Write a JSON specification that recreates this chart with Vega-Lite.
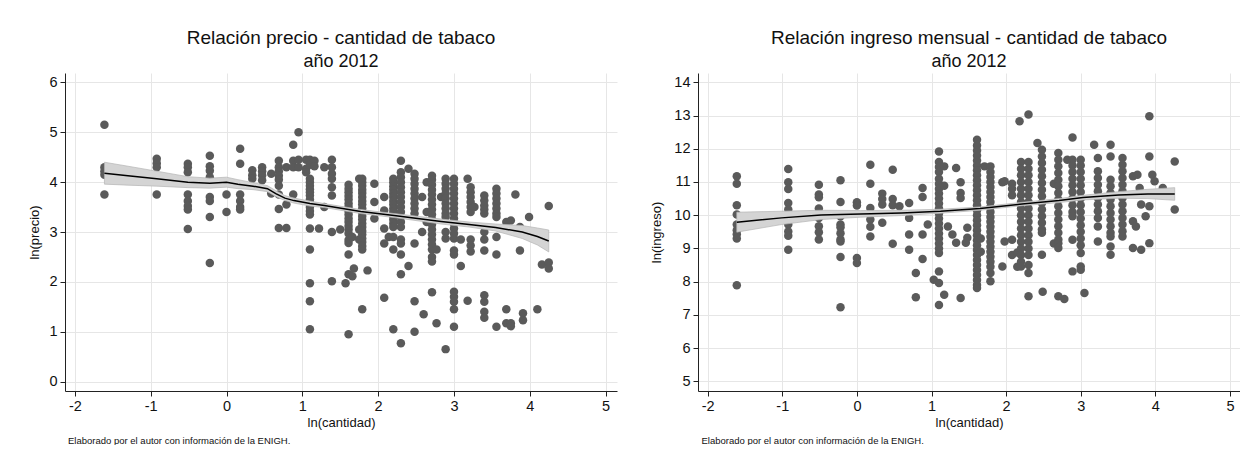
{
  "$schema": "https://vega.github.io/schema/vega-lite/v6.json",
  "background": "white",
  "padding": {"left": 28, "top": 29, "right": 0, "bottom": 0},
  "spacing": 33,
  "config": {
    "font": "Liberation Sans",
    "view": {"stroke": null},
    "axis": {
      "grid": true, "gridColor": "#e6e6e6", "gridWidth": 1,
      "domainColor": "#222222", "tickColor": "#222222", "tickSize": 5,
      "labelFontSize": 14.5, "labelColor": "#111111", "labelPadding": 3, "labelOverlap": false,
      "labelExpr": "'' + datum.value",
      "titleFontSize": 13, "titleFontWeight": "normal", "titleColor": "#111111"
    },
    "title": {"color": "#111111", "subtitleColor": "#111111", "fontWeight": "normal"}
  },
  "datasets": {
    "precio": [
      {"q": -1.61, "p": 5.15}, {"q": -1.61, "p": 4.3}, {"q": -1.61, "p": 4.22}, {"q": -1.61, "p": 4.15}, {"q": -1.61, "p": 3.75},
      {"q": -0.92, "p": 4.47}, {"q": -0.92, "p": 4.38}, {"q": -0.92, "p": 4.3}, {"q": -0.92, "p": 3.75},
      {"q": -0.51, "p": 4.37}, {"q": -0.51, "p": 4.3}, {"q": -0.51, "p": 4.2}, {"q": -0.51, "p": 3.75}, {"q": -0.51, "p": 3.62}, {"q": -0.51, "p": 3.52}, {"q": -0.51, "p": 3.45}, {"q": -0.51, "p": 3.06},
      {"q": -0.22, "p": 4.53}, {"q": -0.22, "p": 4.32}, {"q": -0.22, "p": 4.23}, {"q": -0.22, "p": 4.1}, {"q": -0.22, "p": 3.7}, {"q": -0.22, "p": 3.62}, {"q": -0.22, "p": 3.3}, {"q": -0.22, "p": 2.38},
      {"q": 0, "p": 3.75}, {"q": 0, "p": 3.4},
      {"q": 0.18, "p": 4.67}, {"q": 0.18, "p": 4.37}, {"q": 0.18, "p": 3.75}, {"q": 0.18, "p": 3.62}, {"q": 0.18, "p": 3.5}, {"q": 0.18, "p": 3.45},
      {"q": 0.34, "p": 4.24}, {"q": 0.34, "p": 4.14}, {"q": 0.34, "p": 4.07},
      {"q": 0.47, "p": 4.3}, {"q": 0.47, "p": 4.22}, {"q": 0.47, "p": 4.14}, {"q": 0.47, "p": 4.04},
      {"q": 0.59, "p": 4.17}, {"q": 0.59, "p": 3.77},
      {"q": 0.69, "p": 4.43}, {"q": 0.69, "p": 4.3}, {"q": 0.69, "p": 4.22}, {"q": 0.69, "p": 4.13}, {"q": 0.69, "p": 4.05}, {"q": 0.69, "p": 3.93}, {"q": 0.69, "p": 3.75}, {"q": 0.69, "p": 3.46}, {"q": 0.69, "p": 3.08},
      {"q": 0.79, "p": 4.3}, {"q": 0.79, "p": 3.55}, {"q": 0.79, "p": 3.08},
      {"q": 0.88, "p": 4.75}, {"q": 0.88, "p": 4.43}, {"q": 0.88, "p": 4.3}, {"q": 0.88, "p": 3.75},
      {"q": 0.95, "p": 5.0}, {"q": 0.95, "p": 4.45}, {"q": 0.95, "p": 4.3},
      {"q": 1.05, "p": 4.45}, {"q": 1.05, "p": 4.27}, {"q": 1.05, "p": 4.2},
      {"q": 1.1, "p": 4.45}, {"q": 1.1, "p": 4.35}, {"q": 1.1, "p": 4.07}, {"q": 1.1, "p": 4.0}, {"q": 1.1, "p": 3.93}, {"q": 1.1, "p": 3.86}, {"q": 1.1, "p": 3.8}, {"q": 1.1, "p": 3.73}, {"q": 1.1, "p": 3.65}, {"q": 1.1, "p": 3.58}, {"q": 1.1, "p": 3.5}, {"q": 1.1, "p": 3.42}, {"q": 1.1, "p": 3.35}, {"q": 1.1, "p": 3.07}, {"q": 1.1, "p": 2.65}, {"q": 1.1, "p": 1.97}, {"q": 1.1, "p": 1.61}, {"q": 1.1, "p": 1.05},
      {"q": 1.16, "p": 4.43}, {"q": 1.16, "p": 4.32},
      {"q": 1.22, "p": 3.07},
      {"q": 1.29, "p": 4.3}, {"q": 1.29, "p": 3.5},
      {"q": 1.39, "p": 4.45}, {"q": 1.39, "p": 4.3}, {"q": 1.39, "p": 4.17}, {"q": 1.39, "p": 4.07}, {"q": 1.39, "p": 3.9}, {"q": 1.39, "p": 3.73}, {"q": 1.39, "p": 3.0}, {"q": 1.39, "p": 2.01},
      {"q": 1.5, "p": 3.05},
      {"q": 1.57, "p": 1.97},
      {"q": 1.61, "p": 3.95}, {"q": 1.61, "p": 3.87}, {"q": 1.61, "p": 3.8}, {"q": 1.61, "p": 3.72}, {"q": 1.61, "p": 3.65}, {"q": 1.61, "p": 3.57}, {"q": 1.61, "p": 3.5}, {"q": 1.61, "p": 3.42}, {"q": 1.61, "p": 3.35}, {"q": 1.61, "p": 3.27}, {"q": 1.61, "p": 3.2}, {"q": 1.61, "p": 3.12}, {"q": 1.61, "p": 3.05}, {"q": 1.61, "p": 2.97}, {"q": 1.61, "p": 2.84}, {"q": 1.61, "p": 2.78}, {"q": 1.61, "p": 2.55}, {"q": 1.61, "p": 2.15}, {"q": 1.61, "p": 0.95},
      {"q": 1.66, "p": 2.9}, {"q": 1.66, "p": 2.11},
      {"q": 1.68, "p": 2.27},
      {"q": 1.75, "p": 4.07}, {"q": 1.75, "p": 3.05}, {"q": 1.75, "p": 2.85},
      {"q": 1.79, "p": 4.07}, {"q": 1.79, "p": 4.0}, {"q": 1.79, "p": 3.93}, {"q": 1.79, "p": 3.85}, {"q": 1.79, "p": 3.78}, {"q": 1.79, "p": 3.7}, {"q": 1.79, "p": 3.62}, {"q": 1.79, "p": 3.55}, {"q": 1.79, "p": 3.47}, {"q": 1.79, "p": 3.4}, {"q": 1.79, "p": 3.32}, {"q": 1.79, "p": 3.25}, {"q": 1.79, "p": 3.17}, {"q": 1.79, "p": 3.1}, {"q": 1.79, "p": 3.02}, {"q": 1.79, "p": 2.95}, {"q": 1.79, "p": 2.87}, {"q": 1.79, "p": 2.8}, {"q": 1.79, "p": 2.72}, {"q": 1.79, "p": 2.65}, {"q": 1.79, "p": 1.45},
      {"q": 1.86, "p": 2.23},
      {"q": 1.95, "p": 3.97}, {"q": 1.95, "p": 3.6}, {"q": 1.95, "p": 3.27},
      {"q": 2.08, "p": 3.7}, {"q": 2.08, "p": 3.43}, {"q": 2.08, "p": 3.07}, {"q": 2.08, "p": 2.77}, {"q": 2.08, "p": 1.68},
      {"q": 2.14, "p": 2.9},
      {"q": 2.2, "p": 4.07}, {"q": 2.2, "p": 4.0}, {"q": 2.2, "p": 3.92}, {"q": 2.2, "p": 3.85}, {"q": 2.2, "p": 3.77}, {"q": 2.2, "p": 3.7}, {"q": 2.2, "p": 3.62}, {"q": 2.2, "p": 3.55}, {"q": 2.2, "p": 3.47}, {"q": 2.2, "p": 3.4}, {"q": 2.2, "p": 3.32}, {"q": 2.2, "p": 3.25}, {"q": 2.2, "p": 3.17}, {"q": 2.2, "p": 3.1}, {"q": 2.2, "p": 2.9}, {"q": 2.2, "p": 2.65}, {"q": 2.2, "p": 1.05},
      {"q": 2.3, "p": 4.43}, {"q": 2.3, "p": 4.2}, {"q": 2.3, "p": 4.1}, {"q": 2.3, "p": 4.0}, {"q": 2.3, "p": 3.9}, {"q": 2.3, "p": 3.8}, {"q": 2.3, "p": 3.7}, {"q": 2.3, "p": 3.6}, {"q": 2.3, "p": 3.5}, {"q": 2.3, "p": 3.4}, {"q": 2.3, "p": 3.3}, {"q": 2.3, "p": 3.2}, {"q": 2.3, "p": 3.1}, {"q": 2.3, "p": 2.85}, {"q": 2.3, "p": 2.77}, {"q": 2.3, "p": 2.55}, {"q": 2.3, "p": 2.15}, {"q": 2.3, "p": 0.77},
      {"q": 2.4, "p": 4.27}, {"q": 2.4, "p": 2.32},
      {"q": 2.48, "p": 4.17}, {"q": 2.48, "p": 4.07}, {"q": 2.48, "p": 3.97}, {"q": 2.48, "p": 3.87}, {"q": 2.48, "p": 3.77}, {"q": 2.48, "p": 3.67}, {"q": 2.48, "p": 3.57}, {"q": 2.48, "p": 3.47}, {"q": 2.48, "p": 3.37}, {"q": 2.48, "p": 2.77}, {"q": 2.48, "p": 1.61}, {"q": 2.48, "p": 1.0},
      {"q": 2.58, "p": 3.7}, {"q": 2.58, "p": 3.0},
      {"q": 2.6, "p": 1.35},
      {"q": 2.64, "p": 4.0}, {"q": 2.64, "p": 3.4}, {"q": 2.64, "p": 3.2},
      {"q": 2.71, "p": 4.13}, {"q": 2.71, "p": 4.05}, {"q": 2.71, "p": 3.95}, {"q": 2.71, "p": 3.85}, {"q": 2.71, "p": 3.75}, {"q": 2.71, "p": 3.65}, {"q": 2.71, "p": 3.55}, {"q": 2.71, "p": 3.45}, {"q": 2.71, "p": 3.35}, {"q": 2.71, "p": 3.25}, {"q": 2.71, "p": 3.15}, {"q": 2.71, "p": 3.05}, {"q": 2.71, "p": 2.95}, {"q": 2.71, "p": 2.85}, {"q": 2.71, "p": 2.75}, {"q": 2.71, "p": 2.65}, {"q": 2.71, "p": 2.5}, {"q": 2.71, "p": 2.41}, {"q": 2.71, "p": 1.79},
      {"q": 2.77, "p": 2.65}, {"q": 2.77, "p": 1.17},
      {"q": 2.83, "p": 3.7},
      {"q": 2.89, "p": 4.07}, {"q": 2.89, "p": 3.97}, {"q": 2.89, "p": 3.87}, {"q": 2.89, "p": 3.77}, {"q": 2.89, "p": 3.67}, {"q": 2.89, "p": 3.57}, {"q": 2.89, "p": 3.47}, {"q": 2.89, "p": 3.37}, {"q": 2.89, "p": 3.3}, {"q": 2.89, "p": 3.0}, {"q": 2.89, "p": 2.87}, {"q": 2.89, "p": 0.65},
      {"q": 3.0, "p": 4.07}, {"q": 3.0, "p": 3.97}, {"q": 3.0, "p": 3.87}, {"q": 3.0, "p": 3.77}, {"q": 3.0, "p": 3.67}, {"q": 3.0, "p": 3.57}, {"q": 3.0, "p": 3.47}, {"q": 3.0, "p": 3.37}, {"q": 3.0, "p": 3.27}, {"q": 3.0, "p": 3.17}, {"q": 3.0, "p": 3.07}, {"q": 3.0, "p": 2.97}, {"q": 3.0, "p": 2.87}, {"q": 3.0, "p": 2.63}, {"q": 3.0, "p": 2.55}, {"q": 3.0, "p": 1.8}, {"q": 3.0, "p": 1.7}, {"q": 3.0, "p": 1.6}, {"q": 3.0, "p": 1.45}, {"q": 3.0, "p": 1.1},
      {"q": 3.09, "p": 2.85}, {"q": 3.09, "p": 2.32},
      {"q": 3.18, "p": 4.07}, {"q": 3.18, "p": 1.62},
      {"q": 3.22, "p": 3.9}, {"q": 3.22, "p": 3.8}, {"q": 3.22, "p": 3.7}, {"q": 3.22, "p": 3.6}, {"q": 3.22, "p": 3.5}, {"q": 3.22, "p": 3.4}, {"q": 3.22, "p": 2.85}, {"q": 3.22, "p": 2.73}, {"q": 3.22, "p": 2.61},
      {"q": 3.27, "p": 3.5},
      {"q": 3.4, "p": 3.73}, {"q": 3.4, "p": 3.63}, {"q": 3.4, "p": 3.53}, {"q": 3.4, "p": 3.45}, {"q": 3.4, "p": 3.37}, {"q": 3.4, "p": 3.0}, {"q": 3.4, "p": 2.85}, {"q": 3.4, "p": 2.63}, {"q": 3.4, "p": 1.73}, {"q": 3.4, "p": 1.6}, {"q": 3.4, "p": 1.4}, {"q": 3.4, "p": 1.28},
      {"q": 3.56, "p": 3.87}, {"q": 3.56, "p": 3.77}, {"q": 3.56, "p": 3.67}, {"q": 3.56, "p": 3.57}, {"q": 3.56, "p": 3.47}, {"q": 3.56, "p": 3.37}, {"q": 3.56, "p": 3.3}, {"q": 3.56, "p": 2.9}, {"q": 3.56, "p": 2.55}, {"q": 3.56, "p": 1.1},
      {"q": 3.69, "p": 3.2}, {"q": 3.69, "p": 1.45}, {"q": 3.69, "p": 1.17},
      {"q": 3.75, "p": 3.23}, {"q": 3.75, "p": 1.17}, {"q": 3.75, "p": 1.11},
      {"q": 3.81, "p": 3.75},
      {"q": 3.87, "p": 3.1}, {"q": 3.87, "p": 2.63},
      {"q": 3.91, "p": 1.37}, {"q": 3.91, "p": 1.23},
      {"q": 3.99, "p": 3.3},
      {"q": 4.1, "p": 1.45},
      {"q": 4.16, "p": 2.35},
      {"q": 4.25, "p": 3.52}, {"q": 4.25, "p": 2.39}, {"q": 4.25, "p": 2.27}
    ],
    "fit_precio": [
      {"q": -1.61, "fit": 4.18, "lo": 3.96, "hi": 4.4},
      {"q": -1.3, "fit": 4.13, "lo": 3.94, "hi": 4.32},
      {"q": -0.92, "fit": 4.07, "lo": 3.92, "hi": 4.22},
      {"q": -0.51, "fit": 4.0, "lo": 3.89, "hi": 4.11},
      {"q": -0.22, "fit": 3.98, "lo": 3.88, "hi": 4.08},
      {"q": 0.0, "fit": 4.0, "lo": 3.9, "hi": 4.1},
      {"q": 0.15, "fit": 3.96, "lo": 3.87, "hi": 4.05},
      {"q": 0.35, "fit": 3.92, "lo": 3.85, "hi": 3.99},
      {"q": 0.54, "fit": 3.87, "lo": 3.81, "hi": 3.93},
      {"q": 0.65, "fit": 3.77, "lo": 3.71, "hi": 3.83},
      {"q": 0.77, "fit": 3.68, "lo": 3.63, "hi": 3.73},
      {"q": 0.89, "fit": 3.63, "lo": 3.58, "hi": 3.68},
      {"q": 1.1, "fit": 3.57, "lo": 3.52, "hi": 3.62},
      {"q": 1.29, "fit": 3.53, "lo": 3.49, "hi": 3.57},
      {"q": 1.77, "fit": 3.41, "lo": 3.37, "hi": 3.45},
      {"q": 2.21, "fit": 3.33, "lo": 3.29, "hi": 3.37},
      {"q": 2.83, "fit": 3.21, "lo": 3.16, "hi": 3.26},
      {"q": 3.2, "fit": 3.15, "lo": 3.1, "hi": 3.2},
      {"q": 3.55, "fit": 3.09, "lo": 3.02, "hi": 3.16},
      {"q": 3.9, "fit": 3.0, "lo": 2.87, "hi": 3.13},
      {"q": 4.1, "fit": 2.91, "lo": 2.74, "hi": 3.08},
      {"q": 4.25, "fit": 2.82, "lo": 2.6, "hi": 3.04}
    ],
    "ingreso": [
      {"q": -1.61, "i": 11.17}, {"q": -1.61, "i": 10.95}, {"q": -1.61, "i": 10.3}, {"q": -1.61, "i": 10.02}, {"q": -1.61, "i": 9.72}, {"q": -1.61, "i": 9.55}, {"q": -1.61, "i": 9.43}, {"q": -1.61, "i": 9.3}, {"q": -1.61, "i": 7.89},
      {"q": -0.92, "i": 11.39}, {"q": -0.92, "i": 10.99}, {"q": -0.92, "i": 10.79}, {"q": -0.92, "i": 10.37}, {"q": -0.92, "i": 10.17}, {"q": -0.92, "i": 9.87}, {"q": -0.92, "i": 9.72}, {"q": -0.92, "i": 9.51}, {"q": -0.92, "i": 9.38}, {"q": -0.92, "i": 8.96},
      {"q": -0.51, "i": 10.92}, {"q": -0.51, "i": 10.62}, {"q": -0.51, "i": 10.54}, {"q": -0.51, "i": 10.2}, {"q": -0.51, "i": 9.92}, {"q": -0.51, "i": 9.67}, {"q": -0.51, "i": 9.49}, {"q": -0.51, "i": 9.27},
      {"q": -0.22, "i": 11.05}, {"q": -0.22, "i": 10.4}, {"q": -0.22, "i": 9.97}, {"q": -0.22, "i": 9.72}, {"q": -0.22, "i": 9.64}, {"q": -0.22, "i": 9.46}, {"q": -0.22, "i": 9.27}, {"q": -0.22, "i": 9.21}, {"q": -0.22, "i": 8.74}, {"q": -0.22, "i": 7.23},
      {"q": 0, "i": 10.39}, {"q": 0, "i": 10.29}, {"q": 0, "i": 8.71}, {"q": 0, "i": 8.56},
      {"q": 0.18, "i": 11.52}, {"q": 0.18, "i": 10.95}, {"q": 0.18, "i": 10.22}, {"q": 0.18, "i": 9.87}, {"q": 0.18, "i": 9.65}, {"q": 0.18, "i": 9.36},
      {"q": 0.34, "i": 10.65}, {"q": 0.34, "i": 10.49}, {"q": 0.34, "i": 10.32}, {"q": 0.34, "i": 9.77},
      {"q": 0.48, "i": 11.37}, {"q": 0.48, "i": 10.49}, {"q": 0.48, "i": 10.3}, {"q": 0.48, "i": 9.14},
      {"q": 0.57, "i": 10.27},
      {"q": 0.7, "i": 10.37}, {"q": 0.7, "i": 9.92}, {"q": 0.7, "i": 9.42}, {"q": 0.7, "i": 8.96},
      {"q": 0.79, "i": 8.26}, {"q": 0.79, "i": 7.53},
      {"q": 0.88, "i": 10.82}, {"q": 0.88, "i": 10.55}, {"q": 0.88, "i": 9.42}, {"q": 0.88, "i": 8.68},
      {"q": 0.95, "i": 9.72},
      {"q": 1.03, "i": 8.06},
      {"q": 1.1, "i": 11.92}, {"q": 1.1, "i": 11.6}, {"q": 1.1, "i": 11.45}, {"q": 1.1, "i": 11.3}, {"q": 1.1, "i": 11.1}, {"q": 1.1, "i": 10.95}, {"q": 1.1, "i": 10.8}, {"q": 1.1, "i": 10.65}, {"q": 1.1, "i": 10.5}, {"q": 1.1, "i": 10.35}, {"q": 1.1, "i": 10.2}, {"q": 1.1, "i": 10.05}, {"q": 1.1, "i": 9.9}, {"q": 1.1, "i": 9.75}, {"q": 1.1, "i": 9.6}, {"q": 1.1, "i": 9.45}, {"q": 1.1, "i": 9.3}, {"q": 1.1, "i": 9.15}, {"q": 1.1, "i": 9.0}, {"q": 1.1, "i": 8.86}, {"q": 1.1, "i": 8.31}, {"q": 1.1, "i": 7.96}, {"q": 1.1, "i": 7.3},
      {"q": 1.17, "i": 11.47}, {"q": 1.17, "i": 10.89}, {"q": 1.17, "i": 7.61},
      {"q": 1.22, "i": 9.66},
      {"q": 1.28, "i": 9.42},
      {"q": 1.33, "i": 11.42}, {"q": 1.33, "i": 9.17},
      {"q": 1.39, "i": 10.99}, {"q": 1.39, "i": 10.67}, {"q": 1.39, "i": 10.52}, {"q": 1.39, "i": 7.51},
      {"q": 1.46, "i": 9.17},
      {"q": 1.48, "i": 9.62}, {"q": 1.48, "i": 9.32},
      {"q": 1.61, "i": 12.27}, {"q": 1.61, "i": 12.1}, {"q": 1.61, "i": 11.95}, {"q": 1.61, "i": 11.8}, {"q": 1.61, "i": 11.65}, {"q": 1.61, "i": 11.5}, {"q": 1.61, "i": 11.35}, {"q": 1.61, "i": 11.2}, {"q": 1.61, "i": 11.05}, {"q": 1.61, "i": 10.9}, {"q": 1.61, "i": 10.75}, {"q": 1.61, "i": 10.6}, {"q": 1.61, "i": 10.45}, {"q": 1.61, "i": 10.3}, {"q": 1.61, "i": 10.15}, {"q": 1.61, "i": 10.0}, {"q": 1.61, "i": 9.85}, {"q": 1.61, "i": 9.7}, {"q": 1.61, "i": 9.55}, {"q": 1.61, "i": 9.4}, {"q": 1.61, "i": 9.25}, {"q": 1.61, "i": 9.1}, {"q": 1.61, "i": 8.95}, {"q": 1.61, "i": 8.8}, {"q": 1.61, "i": 8.65}, {"q": 1.61, "i": 8.5}, {"q": 1.61, "i": 8.35}, {"q": 1.61, "i": 8.2}, {"q": 1.61, "i": 8.05}, {"q": 1.61, "i": 7.9}, {"q": 1.61, "i": 7.81},
      {"q": 1.66, "i": 9.3}, {"q": 1.66, "i": 8.9},
      {"q": 1.71, "i": 11.47},
      {"q": 1.79, "i": 11.47}, {"q": 1.79, "i": 11.3}, {"q": 1.79, "i": 11.15}, {"q": 1.79, "i": 11.0}, {"q": 1.79, "i": 10.85}, {"q": 1.79, "i": 10.7}, {"q": 1.79, "i": 10.55}, {"q": 1.79, "i": 10.4}, {"q": 1.79, "i": 10.25}, {"q": 1.79, "i": 10.1}, {"q": 1.79, "i": 9.95}, {"q": 1.79, "i": 9.8}, {"q": 1.79, "i": 9.65}, {"q": 1.79, "i": 9.5}, {"q": 1.79, "i": 9.35}, {"q": 1.79, "i": 9.2}, {"q": 1.79, "i": 9.05}, {"q": 1.79, "i": 8.9}, {"q": 1.79, "i": 8.75}, {"q": 1.79, "i": 8.6}, {"q": 1.79, "i": 8.45}, {"q": 1.79, "i": 8.26}, {"q": 1.79, "i": 8.01},
      {"q": 1.95, "i": 10.99}, {"q": 1.95, "i": 8.46},
      {"q": 1.98, "i": 11.02}, {"q": 1.98, "i": 9.21},
      {"q": 2.08, "i": 10.95}, {"q": 2.08, "i": 10.8}, {"q": 2.08, "i": 10.6}, {"q": 2.08, "i": 9.26}, {"q": 2.08, "i": 8.8},
      {"q": 2.15, "i": 8.88}, {"q": 2.15, "i": 8.45},
      {"q": 2.18, "i": 12.83},
      {"q": 2.2, "i": 11.6}, {"q": 2.2, "i": 11.4}, {"q": 2.2, "i": 11.2}, {"q": 2.2, "i": 11.0}, {"q": 2.2, "i": 10.8}, {"q": 2.2, "i": 10.6}, {"q": 2.2, "i": 10.4}, {"q": 2.2, "i": 10.2}, {"q": 2.2, "i": 10.0}, {"q": 2.2, "i": 9.8}, {"q": 2.2, "i": 9.6}, {"q": 2.2, "i": 9.4}, {"q": 2.2, "i": 9.2}, {"q": 2.2, "i": 9.0}, {"q": 2.2, "i": 8.8}, {"q": 2.2, "i": 8.6}, {"q": 2.2, "i": 8.46},
      {"q": 2.3, "i": 13.03}, {"q": 2.3, "i": 11.6}, {"q": 2.3, "i": 11.4}, {"q": 2.3, "i": 11.2}, {"q": 2.3, "i": 11.0}, {"q": 2.3, "i": 10.8}, {"q": 2.3, "i": 10.6}, {"q": 2.3, "i": 10.4}, {"q": 2.3, "i": 10.2}, {"q": 2.3, "i": 10.0}, {"q": 2.3, "i": 9.8}, {"q": 2.3, "i": 9.6}, {"q": 2.3, "i": 9.4}, {"q": 2.3, "i": 9.2}, {"q": 2.3, "i": 9.0}, {"q": 2.3, "i": 8.8}, {"q": 2.3, "i": 8.5}, {"q": 2.3, "i": 8.26}, {"q": 2.3, "i": 7.56},
      {"q": 2.42, "i": 12.17},
      {"q": 2.48, "i": 11.97}, {"q": 2.48, "i": 11.77}, {"q": 2.48, "i": 11.57}, {"q": 2.48, "i": 11.37}, {"q": 2.48, "i": 11.17}, {"q": 2.48, "i": 10.97}, {"q": 2.48, "i": 10.77}, {"q": 2.48, "i": 10.57}, {"q": 2.48, "i": 10.37}, {"q": 2.48, "i": 10.17}, {"q": 2.48, "i": 9.97}, {"q": 2.48, "i": 9.77}, {"q": 2.48, "i": 9.57}, {"q": 2.48, "i": 9.47}, {"q": 2.48, "i": 8.81}, {"q": 2.49, "i": 7.7},
      {"q": 2.64, "i": 10.95}, {"q": 2.64, "i": 9.15},
      {"q": 2.7, "i": 11.87}, {"q": 2.7, "i": 11.67}, {"q": 2.7, "i": 11.47}, {"q": 2.7, "i": 11.27}, {"q": 2.7, "i": 11.07}, {"q": 2.7, "i": 10.87}, {"q": 2.7, "i": 10.67}, {"q": 2.7, "i": 10.47}, {"q": 2.7, "i": 10.27}, {"q": 2.7, "i": 10.07}, {"q": 2.7, "i": 9.87}, {"q": 2.7, "i": 9.67}, {"q": 2.7, "i": 9.47}, {"q": 2.7, "i": 9.27}, {"q": 2.7, "i": 9.16}, {"q": 2.7, "i": 9.01}, {"q": 2.7, "i": 7.56},
      {"q": 2.78, "i": 7.48},
      {"q": 2.82, "i": 11.67},
      {"q": 2.89, "i": 12.34}, {"q": 2.89, "i": 11.67}, {"q": 2.89, "i": 11.5}, {"q": 2.89, "i": 11.3}, {"q": 2.89, "i": 11.1}, {"q": 2.89, "i": 10.9}, {"q": 2.89, "i": 10.7}, {"q": 2.89, "i": 10.5}, {"q": 2.89, "i": 10.3}, {"q": 2.89, "i": 10.1}, {"q": 2.89, "i": 9.97}, {"q": 2.89, "i": 9.26}, {"q": 2.89, "i": 8.31},
      {"q": 3.0, "i": 11.67}, {"q": 3.0, "i": 11.5}, {"q": 3.0, "i": 11.3}, {"q": 3.0, "i": 11.1}, {"q": 3.0, "i": 10.9}, {"q": 3.0, "i": 10.7}, {"q": 3.0, "i": 10.5}, {"q": 3.0, "i": 10.3}, {"q": 3.0, "i": 10.1}, {"q": 3.0, "i": 9.9}, {"q": 3.0, "i": 9.7}, {"q": 3.0, "i": 9.5}, {"q": 3.0, "i": 9.3}, {"q": 3.0, "i": 9.1}, {"q": 3.0, "i": 8.86}, {"q": 3.0, "i": 8.46}, {"q": 3.0, "i": 8.36},
      {"q": 3.05, "i": 7.66},
      {"q": 3.18, "i": 12.12},
      {"q": 3.23, "i": 11.72}, {"q": 3.23, "i": 11.32}, {"q": 3.23, "i": 11.12}, {"q": 3.23, "i": 10.92}, {"q": 3.23, "i": 10.72}, {"q": 3.23, "i": 10.52}, {"q": 3.23, "i": 10.32}, {"q": 3.23, "i": 10.12}, {"q": 3.23, "i": 9.92}, {"q": 3.23, "i": 9.66}, {"q": 3.23, "i": 9.21},
      {"q": 3.4, "i": 12.12}, {"q": 3.4, "i": 11.77}, {"q": 3.4, "i": 11.07}, {"q": 3.4, "i": 10.87}, {"q": 3.4, "i": 10.67}, {"q": 3.4, "i": 10.47}, {"q": 3.4, "i": 10.27}, {"q": 3.4, "i": 10.07}, {"q": 3.4, "i": 9.87}, {"q": 3.4, "i": 9.67}, {"q": 3.4, "i": 9.47}, {"q": 3.4, "i": 9.36}, {"q": 3.4, "i": 9.06}, {"q": 3.4, "i": 8.81},
      {"q": 3.56, "i": 11.72}, {"q": 3.56, "i": 11.52}, {"q": 3.56, "i": 11.32}, {"q": 3.56, "i": 11.12}, {"q": 3.56, "i": 10.92}, {"q": 3.56, "i": 10.72}, {"q": 3.56, "i": 10.52}, {"q": 3.56, "i": 10.32}, {"q": 3.56, "i": 10.12}, {"q": 3.56, "i": 9.92}, {"q": 3.56, "i": 9.72}, {"q": 3.56, "i": 9.52}, {"q": 3.56, "i": 9.36},
      {"q": 3.7, "i": 11.17}, {"q": 3.7, "i": 9.82}, {"q": 3.7, "i": 9.01},
      {"q": 3.74, "i": 9.66},
      {"q": 3.76, "i": 11.22},
      {"q": 3.79, "i": 10.82},
      {"q": 3.81, "i": 10.32}, {"q": 3.81, "i": 8.96},
      {"q": 3.87, "i": 9.97},
      {"q": 3.92, "i": 12.98}, {"q": 3.92, "i": 11.77}, {"q": 3.92, "i": 10.27}, {"q": 3.92, "i": 9.16},
      {"q": 3.96, "i": 11.22},
      {"q": 3.99, "i": 11.02},
      {"q": 4.1, "i": 10.82},
      {"q": 4.16, "i": 10.67},
      {"q": 4.26, "i": 11.62}, {"q": 4.26, "i": 10.17}
    ],
    "fit_ingreso": [
      {"q": -1.61, "fit": 9.79, "lo": 9.49, "hi": 10.09},
      {"q": -1.01, "fit": 9.92, "lo": 9.72, "hi": 10.12},
      {"q": -0.48, "fit": 10.01, "lo": 9.87, "hi": 10.15},
      {"q": 0.05, "fit": 10.04, "lo": 9.94, "hi": 10.14},
      {"q": 0.6, "fit": 10.07, "lo": 9.99, "hi": 10.15},
      {"q": 1.12, "fit": 10.12, "lo": 10.06, "hi": 10.18},
      {"q": 1.65, "fit": 10.2, "lo": 10.15, "hi": 10.25},
      {"q": 2.18, "fit": 10.33, "lo": 10.28, "hi": 10.38},
      {"q": 2.71, "fit": 10.44, "lo": 10.38, "hi": 10.5},
      {"q": 3.03, "fit": 10.53, "lo": 10.46, "hi": 10.6},
      {"q": 3.51, "fit": 10.61, "lo": 10.51, "hi": 10.71},
      {"q": 3.9, "fit": 10.64, "lo": 10.5, "hi": 10.78},
      {"q": 4.26, "fit": 10.64, "lo": 10.45, "hi": 10.83}
    ]
  },
  "hconcat": [
    {
      "title": {"text": "Elaborado por el autor con información de la ENIGH.", "orient": "bottom", "anchor": "start", "fontSize": 9.5, "fontWeight": "normal", "dx": 40, "offset": 6},
      "vconcat": [
        {
          "width": 552,
          "height": 318,
          "title": {"text": "Relación precio - cantidad de tabaco", "subtitle": "año 2012", "anchor": "middle", "frame": "group", "fontSize": 19, "subtitleFontSize": 18, "offset": 2, "subtitlePadding": 5},
          "layer": [
            {
              "data": {"name": "precio"},
              "mark": {"type": "circle", "size": 72, "color": "#5a5a5a", "opacity": 1},
              "encoding": {
                "x": {"field": "q", "type": "quantitative", "title": "ln(cantidad)", "scale": {"domain": [-2.13, 5.15], "nice": false, "zero": false}, "axis": {"values": [-2, -1, 0, 1, 2, 3, 4, 5], "tickCount": 12, "titlePadding": 4, "labelOverlap": false}},
                "y": {"field": "p", "type": "quantitative", "title": "ln(precio)", "scale": {"domain": [-0.19, 6.19], "nice": false, "zero": false}, "axis": {"values": [0, 1, 2, 3, 4, 5, 6], "tickCount": 12, "minExtent": 20, "maxExtent": 20, "titlePadding": 4, "labelOverlap": false}}
              }
            },
            {
              "data": {"name": "fit_precio"},
              "mark": {"type": "area", "color": "#d4d4d4", "stroke": "#b5b5b5", "strokeWidth": 0.7, "opacity": 1},
              "encoding": {
                "x": {"field": "q", "type": "quantitative", "title": "ln(cantidad)"},
                "y": {"field": "lo", "type": "quantitative", "title": "ln(precio)"},
                "y2": {"field": "hi"}
              }
            },
            {
              "data": {"name": "fit_precio"},
              "mark": {"type": "line", "color": "#000000", "strokeWidth": 1.5},
              "encoding": {
                "x": {"field": "q", "type": "quantitative", "title": "ln(cantidad)"},
                "y": {"field": "fit", "type": "quantitative", "title": "ln(precio)"}
              }
            }
          ]
        }
      ]
    },
    {
      "title": {"text": "Elaborado por el autor con información de la ENIGH.", "orient": "bottom", "anchor": "start", "fontSize": 9.5, "fontWeight": "normal", "dx": 51, "offset": 6},
      "vconcat": [
        {
          "width": 542,
          "height": 318,
          "title": {"text": "Relación ingreso mensual - cantidad de tabaco", "subtitle": "año 2012", "anchor": "middle", "frame": "group", "fontSize": 19, "subtitleFontSize": 18, "offset": 2, "subtitlePadding": 5},
          "layer": [
            {
              "data": {"name": "ingreso"},
              "mark": {"type": "circle", "size": 72, "color": "#5a5a5a", "opacity": 1},
              "encoding": {
                "x": {"field": "q", "type": "quantitative", "title": "ln(cantidad)", "scale": {"domain": [-2.13, 5.135], "nice": false, "zero": false}, "axis": {"values": [-2, -1, 0, 1, 2, 3, 4, 5], "tickCount": 12, "titlePadding": 4, "labelOverlap": false}},
                "y": {"field": "i", "type": "quantitative", "title": "ln(ingreso)", "scale": {"domain": [4.71, 14.28], "nice": false, "zero": false}, "axis": {"values": [5, 6, 7, 8, 9, 10, 11, 12, 13, 14], "tickCount": 12, "minExtent": 30, "maxExtent": 30, "titlePadding": 4.5, "labelOverlap": false}}
              }
            },
            {
              "data": {"name": "fit_ingreso"},
              "mark": {"type": "area", "color": "#d4d4d4", "stroke": "#b5b5b5", "strokeWidth": 0.7, "opacity": 1},
              "encoding": {
                "x": {"field": "q", "type": "quantitative", "title": "ln(cantidad)"},
                "y": {"field": "lo", "type": "quantitative", "title": "ln(ingreso)"},
                "y2": {"field": "hi"}
              }
            },
            {
              "data": {"name": "fit_ingreso"},
              "mark": {"type": "line", "color": "#000000", "strokeWidth": 1.5},
              "encoding": {
                "x": {"field": "q", "type": "quantitative", "title": "ln(cantidad)"},
                "y": {"field": "fit", "type": "quantitative", "title": "ln(ingreso)"}
              }
            }
          ]
        }
      ]
    }
  ]
}
